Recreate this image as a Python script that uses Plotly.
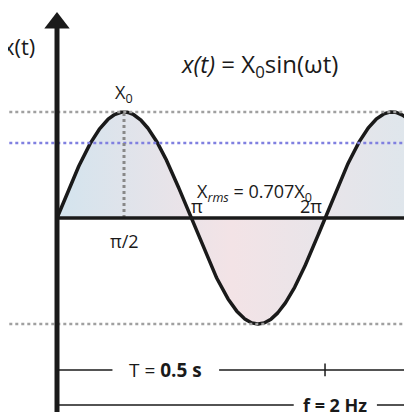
import numpy as np
import plotly.graph_objects as go

# signal parameters
amplitude = 1.0
rms_factor = 0.707
n_periods = 1.3
phase = np.linspace(0, 2 * np.pi * n_periods, 600)
signal = amplitude * np.sin(phase)

period_y = -1.434
freq_y = -1.764

fig = go.Figure()

# shaded lobes
pos = np.where(signal > 0, signal, 0)
neg = np.where(signal < 0, signal, 0)
for part in (pos, neg):
    fig.add_trace(go.Scatter(
        x=phase, y=part, mode="lines", line=dict(width=0), fill="tozeroy",
        fillgradient=dict(type="horizontal",
                          colorscale=[[0, "#d3e4ee"], [0.5, "#f3e3e6"], [1, "#dfe6ec"]]),
        hoverinfo="skip"))

# reference levels
for lvl, col in [(amplitude, "#a0a0a0"), (-amplitude, "#a0a0a0"), (rms_factor * amplitude, "#8080e0")]:
    fig.add_shape(type="line", x0=-1.4, x1=8.8, y0=lvl, y1=lvl,
                  line=dict(color=col, width=2.5, dash="dot"))
fig.add_shape(type="line", x0=np.pi / 2, x1=np.pi / 2, y0=0, y1=amplitude,
              line=dict(color="#888888", width=3, dash="dot"))

# sine curve
fig.add_trace(go.Scatter(x=phase, y=signal, mode="lines",
                         line=dict(color="#1a1a1a", width=3.5), hoverinfo="skip"))

# axes
fig.add_shape(type="line", x0=0, x1=8.8, y0=0, y1=0, line=dict(color="#1a1a1a", width=3.5))
fig.add_shape(type="line", x0=0, x1=0, y0=-2, y1=1.8, line=dict(color="#1a1a1a", width=5))
fig.add_trace(go.Scatter(x=[0], y=[1.84], mode="markers",
                         marker=dict(symbol="triangle-up", size=22, color="#1a1a1a"),
                         hoverinfo="skip"))

# period / frequency bars
fig.add_shape(type="line", x0=0, x1=1.3, y0=period_y, y1=period_y, line=dict(color="#1a1a1a", width=1.5))
fig.add_shape(type="line", x0=3.8, x1=8.8, y0=period_y, y1=period_y, line=dict(color="#1a1a1a", width=1.5))
fig.add_shape(type="line", x0=2 * np.pi, x1=2 * np.pi, y0=period_y - 0.06, y1=period_y + 0.06,
              line=dict(color="#1a1a1a", width=1.5))
fig.add_shape(type="line", x0=0, x1=5.55, y0=freq_y, y1=freq_y, line=dict(color="#1a1a1a", width=1.5))
fig.add_shape(type="line", x0=7.5, x1=8.8, y0=freq_y, y1=freq_y, line=dict(color="#1a1a1a", width=1.5))

f = "Open Sans"
def txt(x, y, s, size=15, **kw):
    fig.add_annotation(x=x, y=y, text=s, showarrow=False,
                       font=dict(family=f, size=size, color="#1a1a1a"), **kw)

txt(-0.9, 1.62, "x(t)", size=22)
txt(-1.25, -0.07, "0°", size=20)
txt(4.75, 1.44, "<i>x(t)</i> = X<sub>0</sub>sin(ωt)", size=24)
txt(np.pi / 2, 1.17, "X<sub>0</sub>", size=18)
txt(4.63, 0.24, "X<sub><i>rms</i></sub> = 0.707X<sub>0</sub>", size=18)
txt(3.28, 0.11, "π", size=18)
txt(5.95, 0.11, "2π", size=18)
txt(np.pi / 2, -0.22, "π/2", size=18)
txt(2.55, period_y, "T = <b>0.5 s</b>", size=19)
txt(6.52, freq_y, "<b>f = 2 Hz</b>", size=18)

# body margin in page offsets figure by 8px; shift ranges to compensate
fig.update_layout(
    width=412, height=412, margin=dict(l=0, r=0, t=0, b=0),
    paper_bgcolor="white", plot_bgcolor="white", showlegend=False,
    xaxis=dict(range=[-1.149, 8.51], visible=False),
    yaxis=dict(range=[-1.906, 1.981], visible=False),
)
fig.write_html("out.html")
